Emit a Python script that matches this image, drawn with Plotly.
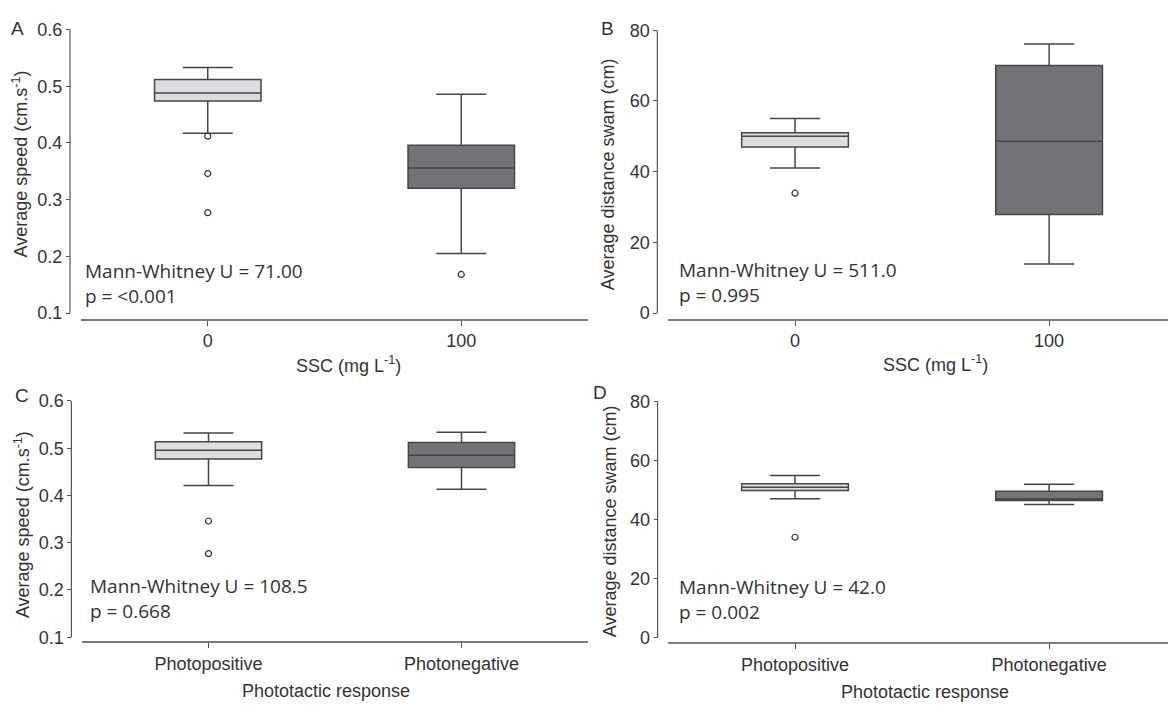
import plotly.graph_objects as go

W, H = 1168, 710


def px(x):
    return x / W


def py(y):
    return 1 - y / H


# ---------------- data ----------------
ssc_cats = ["0", "100"]
photo_cats = ["Photopositive", "Photonegative"]

# Panel A: average speed (cm/s) by SSC
a_q1 = [0.474, 0.320]
a_med = [0.488, 0.356]
a_q3 = [0.512, 0.396]
a_lo = [0.417, 0.205]
a_hi = [0.533, 0.486]
a_out_x = ["0", "0", "0", "100"]
a_out_y = [0.412, 0.346, 0.277, 0.168]

# Panel B: average distance swam (cm) by SSC
b_q1 = [47.0, 27.9]
b_med = [50.0, 48.6]
b_q3 = [51.0, 70.0]
b_lo = [41.0, 13.9]
b_hi = [55.0, 76.1]
b_out_x = ["0"]
b_out_y = [33.9]

# Panel C: average speed by phototactic response
c_q1 = [0.477, 0.459]
c_med = [0.496, 0.485]
c_q3 = [0.514, 0.512]
c_lo = [0.421, 0.413]
c_hi = [0.532, 0.534]
c_out_x = ["Photopositive", "Photopositive"]
c_out_y = [0.346, 0.277]

# Panel D: average distance swam by phototactic response
d_q1 = [49.9, 46.5]
d_med = [51.0, 47.0]
d_q3 = [52.2, 49.6]
d_lo = [47.1, 45.1]
d_hi = [55.0, 52.0]
d_out_x = ["Photopositive"]
d_out_y = [34.0]

speed_ticks = [0.1, 0.2, 0.3, 0.4, 0.5, 0.6]
dist_ticks = [0, 20, 40, 60, 80]

stats = {
    "A": ("Mann-Whitney U = 71.00", "p = <0.001"),
    "B": ("Mann-Whitney U = 511.0", "p = 0.995"),
    "C": ("Mann-Whitney U = 108.5", "p = 0.668"),
    "D": ("Mann-Whitney U = 42.0", "p = 0.002"),
}

LIGHT = "#dcdde0"
DARK = "#737477"
EDGE = "#464646"
TXT = "#333333"
TICKFONT = "Liberation Sans, Arial, sans-serif"
STATFONT = "Open Sans, Noto Sans, sans-serif"

panels = [
    dict(name="A", cats=ssc_cats, q1=a_q1, med=a_med, q3=a_q3, lo=a_lo, hi=a_hi,
         ox=a_out_x, oy=a_out_y, ticks=speed_ticks, fmt="{:.1f}",
         xdom=(81, 588), xrange=[-0.5, 1.5], ytop=20, ybot=310, yline=316,
         yaxis_x=70, stat_x=82.7, stat_y=280,
         label_xy=(17.5, 18.5), xtitle="SSC (mg L<sup>-1</sup>)", xtitle_xy=(348, 363),
         ytitle="Average speed (cm.s<sup>-1</sup>)", ytitle_xy=(20, 158)),
    dict(name="B", cats=ssc_cats, q1=b_q1, med=b_med, q3=b_q3, lo=b_lo, hi=b_hi,
         ox=b_out_x, oy=b_out_y, ticks=dist_ticks, fmt="{:d}",
         xdom=(668, 1168), xrange=[-0.5, 1.468], ytop=20.7, ybot=310, yline=316,
         yaxis_x=657.3, stat_x=676.8, stat_y=279.2,
         label_xy=(607, 19), xtitle="SSC (mg L<sup>-1</sup>)", xtitle_xy=(935, 362),
         ytitle="Average distance swam (cm)", ytitle_xy=(608, 168)),
    dict(name="C", cats=photo_cats, q1=c_q1, med=c_med, q3=c_q3, lo=c_lo, hi=c_hi,
         ox=c_out_x, oy=c_out_y, ticks=speed_ticks, fmt="{:.1f}",
         xdom=(82, 588), xrange=[-0.5, 1.5], ytop=400, ybot=641.7, yline=645.7,
         yaxis_x=71.4, stat_x=87.7, stat_y=602.5,
         label_xy=(22, 394), xtitle="Phototactic response", xtitle_xy=(326, 697),
         ytitle="Average speed (cm.s<sup>-1</sup>)", ytitle_xy=(22, 527)),
    dict(name="D", cats=photo_cats, q1=d_q1, med=d_med, q3=d_q3, lo=d_lo, hi=d_hi,
         ox=d_out_x, oy=d_out_y, ticks=dist_ticks, fmt="{:d}",
         xdom=(668, 1168), xrange=[-0.5, 1.468], ytop=401, ybot=641.7, yline=647,
         yaxis_x=657.6, stat_x=676.8, stat_y=603,
         label_xy=(600, 391), xtitle="Phototactic response", xtitle_xy=(925, 698),
         ytitle="Average distance swam (cm)", ytitle_xy=(610, 523)),
]

fig = go.Figure()
layout = dict(
    width=W, height=H, margin=dict(l=0, r=0, t=0, b=0),
    paper_bgcolor="white", plot_bgcolor="white", showlegend=False,
    boxmode="overlay",
)
annotations = []
shapes = []

for i, p in enumerate(panels, start=1):
    xa = "x" if i == 1 else f"x{i}"
    ya = "y" if i == 1 else f"y{i}"
    xkey = "xaxis" if i == 1 else f"xaxis{i}"
    ykey = "yaxis" if i == 1 else f"yaxis{i}"

    ymin_v, ymax_v = p["ticks"][0], p["ticks"][-1]
    ppu = (p["ybot"] - p["ytop"]) / (ymax_v - ymin_v)
    bottom_v = ymin_v - (p["yline"] - p["ybot"]) / ppu

    for j, cat in enumerate(p["cats"]):
        fig.add_trace(go.Box(
            x=[cat], q1=[p["q1"][j]], median=[p["med"][j]], q3=[p["q3"][j]],
            lowerfence=[p["lo"][j]], upperfence=[p["hi"][j]],
            width=0.42, whiskerwidth=0.47, boxpoints=False,
            fillcolor=LIGHT if j == 0 else DARK,
            line=dict(color=EDGE, width=1.5),
            xaxis=xa, yaxis=ya, hoverinfo="skip",
        ))
    fig.add_trace(go.Scatter(
        x=p["ox"], y=p["oy"], mode="markers",
        marker=dict(symbol="circle-open", size=6, color=TXT, line=dict(width=1.2)),
        xaxis=xa, yaxis=ya, hoverinfo="skip",
    ))

    layout[xkey] = dict(
        domain=[px(p["xdom"][0]), px(p["xdom"][1])], anchor=ya,
        type="category", categoryorder="array", categoryarray=p["cats"],
        range=p["xrange"], showgrid=False, zeroline=False,
        showline=True, linecolor="#7a7a7a", linewidth=2,
        ticks="outside", ticklen=5, tickcolor="#555555", tickwidth=1,
        tickfont=dict(family=TICKFONT, size=18, color=TXT),
        fixedrange=True,
    )
    layout[ykey] = dict(
        domain=[py(p["yline"]), py(p["ytop"])], anchor="free",
        position=px(p["yaxis_x"]), range=[bottom_v, ymax_v],
        showgrid=False, zeroline=False, showline=False,
        tickmode="array", tickvals=p["ticks"],
        ticktext=[p["fmt"].format(t) for t in p["ticks"]],
        ticks="outside", ticklen=4, tickcolor="#555555", tickwidth=1,
        tickfont=dict(family=TICKFONT, size=18, color=TXT),
        fixedrange=True,
    )
    shapes.append(dict(type="line", xref="paper", yref=ya,
                       x0=px(p["yaxis_x"]), x1=px(p["yaxis_x"]),
                       y0=ymin_v, y1=ymax_v,
                       line=dict(color="#555555", width=1.2)))

    # statistics text (two lines in one block)
    annotations.append(dict(
        xref="paper", yref="paper", x=px(p["stat_x"]), y=py(p["stat_y"]),
        xanchor="left", yanchor="middle", align="left", showarrow=False,
        text="<br>".join(stats[p["name"]]),
        font=dict(family=STATFONT, size=19, color=TXT)))
    # panel label
    annotations.append(dict(
        xref="paper", yref="paper", x=px(p["label_xy"][0]), y=py(p["label_xy"][1]),
        xanchor="center", yanchor="middle", showarrow=False, text=p["name"],
        font=dict(family=TICKFONT, size=19, color=TXT)))
    # axis titles
    annotations.append(dict(
        xref="paper", yref="paper", x=px(p["xtitle_xy"][0]), y=py(p["xtitle_xy"][1]),
        xanchor="center", yanchor="middle", showarrow=False, text=p["xtitle"],
        font=dict(family=TICKFONT, size=18, color=TXT)))
    annotations.append(dict(
        xref="paper", yref="paper", x=px(p["ytitle_xy"][0]), y=py(p["ytitle_xy"][1]),
        xanchor="center", yanchor="middle", showarrow=False, text=p["ytitle"],
        textangle=-90, font=dict(family=TICKFONT, size=18, color=TXT)))

layout["annotations"] = annotations
layout["shapes"] = shapes
fig.update_layout(**layout)

fig.write_html("out.html", config={"displayModeBar": False},
               post_script="document.body.style.margin='0';")
